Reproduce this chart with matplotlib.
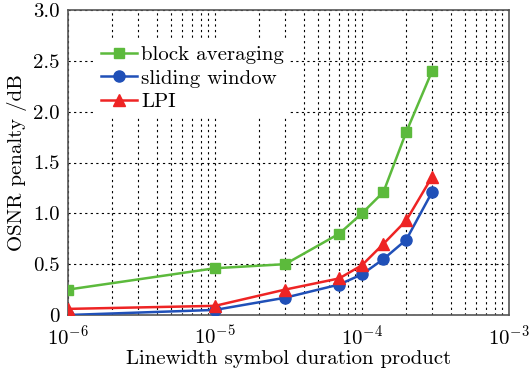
import matplotlib
matplotlib.use("Agg")
import matplotlib.pyplot as plt
from matplotlib.ticker import LogLocator, FixedLocator, FixedFormatter, NullFormatter

x = [1e-6, 1e-5, 3e-5, 7e-5, 1e-4, 1.4e-4, 2e-4, 3e-4]
block_averaging = [0.25, 0.46, 0.50, 0.80, 1.00, 1.21, 1.80, 2.40]
sliding_window = [0.00, 0.05, 0.17, 0.30, 0.40, 0.55, 0.74, 1.21]
lpi = [0.06, 0.09, 0.25, 0.36, 0.49, 0.70, 0.93, 1.36]
yticks = [0, 0.5, 1.0, 1.5, 2.0, 2.5, 3.0]
yticklabels = ["0", "0.5", "1.0", "1.5", "2.0", "2.5", "3.0"]

plt.rcParams['font.family'] = ['cmr10', 'DejaVu Serif']
plt.rcParams['mathtext.fontset'] = 'cm'
plt.rcParams['axes.formatter.use_mathtext'] = True

fig = plt.figure(figsize=(5.3, 3.71), dpi=100)
ax = fig.add_axes([68/530, 1-315/371, (509-68)/530, (315-10)/371])

ax.plot(x, block_averaging, color='#5cba3c', marker='s', ms=7, lw=1.8, label='block averaging', zorder=3)
ax.plot(x, sliding_window, color='#2050b8', marker='o', ms=8, lw=1.8, label='sliding window', zorder=3)
ax.plot(x, lpi, color='#ee2424', marker='^', ms=8, lw=1.8, label='LPI', zorder=3)

ax.set_xscale('log')
ax.set_xlim(1e-6, 1e-3)
ax.set_ylim(0, 3.0)
ax.xaxis.set_major_locator(LogLocator(base=10, numticks=10))
ax.xaxis.set_minor_locator(LogLocator(base=10, subs=range(2, 10), numticks=50))
ax.xaxis.set_minor_formatter(NullFormatter())
ax.yaxis.set_major_locator(FixedLocator(yticks))
ax.yaxis.set_major_formatter(FixedFormatter(yticklabels))

ax.grid(True, which='both', axis='x', color='black', linestyle=(0, (2, 3)), lw=0.8)
ax.grid(True, which='major', axis='y', color='black', linestyle=(0, (2, 3)), lw=0.8)
ax.tick_params(which='both', length=0, labelsize=15)
ax.tick_params(axis='x', pad=7)
ax.tick_params(axis='y', pad=6)
for s in ax.spines.values():
    s.set_color('#555555')
    s.set_linewidth(1.2)

ax.set_xlabel('Linewidth symbol duration product', fontsize=15, labelpad=1)
ax.set_ylabel('OSNR penalty /dB', fontsize=15, labelpad=4)

leg = ax.legend(loc='upper left', bbox_to_anchor=(0.06, 0.905), fontsize=15, frameon=True,
                fancybox=False, edgecolor='none', facecolor='white', framealpha=1,
                handlelength=1.75, handletextpad=0.2, borderpad=0.3, labelspacing=0.25,
                borderaxespad=0)
fig.savefig('out.png', dpi=100)
